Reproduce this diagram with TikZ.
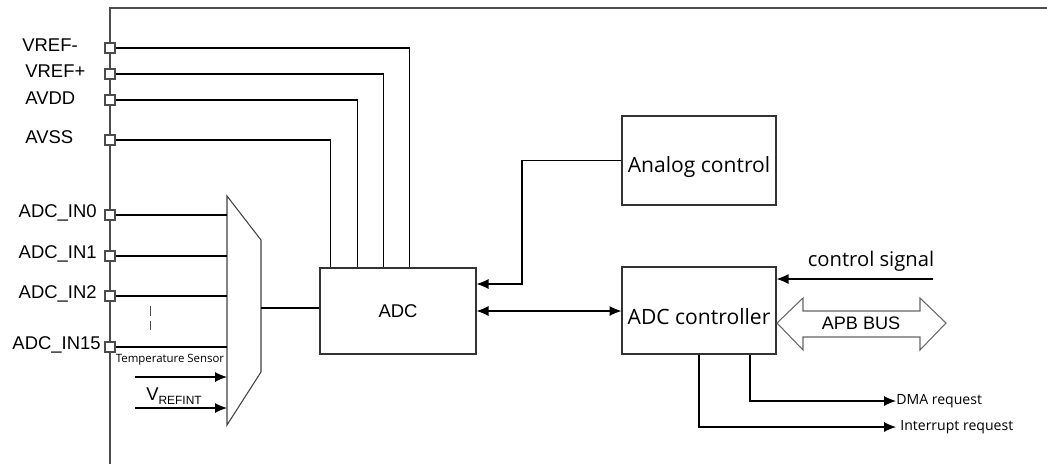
\documentclass[tikz,border=0pt]{standalone}
\usepackage{fontspec}
\setmainfont{Liberation Sans}
\newfontfamily\yhfont{Open Sans}
\usetikzlibrary{arrows.meta,positioning}
\tikzset{
  blk/.style={draw=black!80,line width=0.6pt,minimum width=3.08cm,minimum height=1.76cm,inner sep=0pt},
  pinbox/.style={draw=black!70,fill=white,line width=0.6pt,minimum size=0.2cm,inner sep=0pt},
  lbl/.style={inner sep=0pt,font=\fontsize{10.5}{12}\selectfont},
  yhtxt/.style={inner sep=0pt,font=\yhfont\fontsize{12}{14}\selectfont},
  smtxt/.style={inner sep=0pt,font=\yhfont\fontsize{8}{9}\selectfont},
  sig/.style={line width=0.6pt},
  arr/.style={-{Latex[length=2.4mm,width=2mm]},line width=0.6pt},
  arrd/.style={{Latex[length=2.4mm,width=2mm]}-{Latex[length=2.4mm,width=2mm]},line width=0.6pt}
}
\begin{document}
\begin{tikzpicture}[x=0.02cm,y=-0.02cm]
  \useasboundingbox (0,0) rectangle (1047,464);
  %% chip border
  \draw[black!70,line width=0.6pt] (110,464) -- (110,8) -- (1047,8);
  %% pins
  \node[pinbox] (pVrefM) at (110,48) {};
  \node[pinbox] (pVrefP) at (110,74) {};
  \node[pinbox] (pAvdd) at (110,100) {};
  \node[pinbox] (pAvss) at (110,140) {};
  \node[pinbox] (pIn0) at (110,215) {};
  \node[pinbox] (pIn1) at (110,256) {};
  \node[pinbox] (pIn2) at (110,296) {};
  \node[pinbox] (pIn15) at (110,347) {};
  \node[lbl,anchor=west] (lVrefM) at (22,45) {VREF-};
  \node[lbl,anchor=west] (lVrefP) at (25,71) {VREF+};
  \node[lbl,anchor=west] (lAvdd) at (25,98) {AVDD};
  \node[lbl,anchor=west] (lAvss) at (25,137) {AVSS};
  \node[lbl,anchor=east] (lIn0) at (97,213) {ADC\_IN0};
  \node[lbl,anchor=east] (lIn1) at (97,254) {ADC\_IN1};
  \node[lbl,anchor=east] (lIn2) at (97,294) {ADC\_IN2};
  \node[lbl,anchor=east] (lIn15) at (101,345) {ADC\_IN15};
  \draw[black!70,line width=0.5pt,dash pattern=on 0.2cm off 0.1cm] (150,306) -- (150,330);
  %% mux
  \coordinate (m1) at (227,196);
  \coordinate (m2) at (261,240);
  \coordinate (m3) at (261,372);
  \coordinate (m4) at (227,425);
  \coordinate (mOut) at (261,308);
  \draw[black!75,line width=0.6pt] (m1) -- (m2) -- (m3) -- (m4) -- cycle;
  \foreach \p in {pIn0,pIn1,pIn2,pIn15}
    \draw[sig] (\p) -- (\p -| m1);
  %% internal inputs
  \node[inner sep=0pt,font=\yhfont\fontsize{6.5}{8}\selectfont] (lTemp) at (170,360) {Temperature Sensor};
  \node[lbl] (lVrefint) at (174,396) {V\raisebox{-0.35ex}{\fontsize{6.8}{8}\selectfont REFINT}};
  \coordinate (tsIn) at (135,377);
  \coordinate (viIn) at (135,408);
  \draw[arr] (tsIn) -- (tsIn -| m1);
  \draw[arr] (viIn) -- (viIn -| m1);
  %% blocks
  \node[blk,minimum width=3.12cm,minimum height=1.72cm,font=\fontsize{10.5}{12}\selectfont] (adc) at (398,311) {ADC};
  \node[blk,minimum height=1.78cm,yhtxt] (actl) at (699,160.5) {\raisebox{-0.23cm}[0pt][0pt]{Analog control}};
  \node[blk,minimum height=1.74cm,yhtxt] (ctrl) at (699,310.5) {\raisebox{-0.27cm}[0pt][0pt]{ADC controller}};
  \draw[sig] (mOut) -- (mOut -| adc.west);
  %% supplies
  \draw[sig] (pVrefM) -| ([xshift=1.8cm]adc.north west);
  \draw[sig] (pVrefP) -| ([xshift=1.28cm]adc.north west);
  \draw[sig] (pAvdd) -| ([xshift=0.76cm]adc.north west);
  \draw[sig] (pAvss) -| ([xshift=0.22cm]adc.north west);
  %% control paths
  \coordinate (acJoin) at (522,284);
  \draw[arr] (actl.west) -| (acJoin) -- (acJoin -| adc.east);
  \draw[arrd] (adc.east) -- (adc.east -| ctrl.west);
  \coordinate (csIn) at (933,279);
  \node[inner sep=0pt,font=\yhfont\fontsize{11.5}{13}\selectfont] (lCs) at (871,261) {control signal};
  \draw[arr] (csIn) -- (csIn -| ctrl.east);
  %% APB bus
  \draw[black!60,line width=0.6pt] (777,323) -- (803,298) -- (803,311) -- (920,311) -- (920,298)
    -- (946,323) -- (920,350) -- (920,337) -- (803,337) -- (803,350) -- cycle;
  \node[lbl,font=\fontsize{10.3}{12}\selectfont] (apb) at (861,323) {APB BUS};
  %% requests
  \node[smtxt,anchor=west] (dma) at (896,401) {DMA request};
  \node[smtxt,anchor=west] (irq) at (900,427) {Interrupt request};
  \draw[arr] ([xshift=1.02cm]ctrl.south) |- (dma.west);
  \draw[arr] (ctrl.south) |- ([xshift=-0.08cm]irq.west);
\end{tikzpicture}
\end{document}
